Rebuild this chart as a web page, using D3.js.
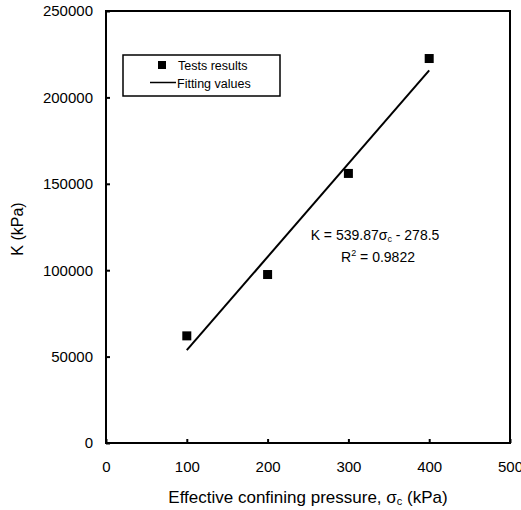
<!DOCTYPE html>
<html>
<head>
<meta charset="utf-8">
<script src="https://cdn.jsdelivr.net/npm/d3@7"></script>
<style>
	body { margin: 0; background: #fff; }
	svg text { font-family: "Liberation Sans", Arial, sans-serif; fill: #000; }
</style>
</head>
<body>
<script>
const w = 521;
const h = 510;
const m = {top: 11, right: 11, bottom: 67, left: 106};

// test data
const pressure = [100, 200, 300, 400];
const modulus = [62000, 97500, 156000, 222500];

// fitted line end points (K = 539.87 sigma_c - 278.5)
const fitPressure = [100, 400];
const fitModulus = [53708, 215670];

const xTicks = [0, 100, 200, 300, 400, 500];
const yTicks = [0, 50000, 100000, 150000, 200000, 250000];

const legendLabels = ['Tests results', 'Fitting values'];

const svg = d3.select('body').append('svg')
	.attr('width', w)
	.attr('height', h);

const x = d3.scaleLinear().domain([0, 500]).range([m.left, w - m.right]);
const y = d3.scaleLinear().domain([0, 250000]).range([h - m.bottom, m.top]);

// axes, ticks drawn inward
svg.append('g')
	.attr('transform', `translate(0,${h - m.bottom})`)
	.call(d3.axisBottom(x).tickValues(xTicks).tickSizeInner(-4).tickSizeOuter(0).tickPadding(18))
	.call(g => g.select('.domain').remove())
	.call(g => g.selectAll('line').attr('stroke-width', 2))
	.call(g => g.selectAll('text').attr('font-size', 15).attr('font-family', '"Liberation Sans", Arial, sans-serif'));

svg.append('g')
	.attr('transform', `translate(${m.left},0)`)
	.call(d3.axisLeft(y).tickValues(yTicks).tickFormat(d3.format('d')).tickSizeInner(-4).tickSizeOuter(0).tickPadding(13))
	.call(g => g.select('.domain').remove())
	.call(g => g.selectAll('line').attr('stroke-width', 2))
	.call(g => g.selectAll('text').attr('font-size', 15).attr('font-family', '"Liberation Sans", Arial, sans-serif'));

// frame
svg.append('rect')
	.attr('x', m.left)
	.attr('y', m.top)
	.attr('width', w - m.right - m.left)
	.attr('height', h - m.bottom - m.top)
	.attr('fill', 'none')
	.attr('stroke', '#000')
	.attr('stroke-width', 2);

// fitting line
svg.append('path')
	.datum(fitPressure.map((p, i) => [p, fitModulus[i]]))
	.attr('d', d3.line().x(d => x(d[0])).y(d => y(d[1])))
	.attr('fill', 'none')
	.attr('stroke', '#000')
	.attr('stroke-width', 2);

// test points
svg.selectAll('.pt')
	.data(pressure.map((p, i) => [p, modulus[i]]))
	.enter()
	.append('rect')
	.attr('class', 'pt')
	.attr('x', d => x(d[0]) - 4.5)
	.attr('y', d => y(d[1]) - 4.5)
	.attr('width', 9)
	.attr('height', 9)
	.attr('fill', '#000');

// equation
const eq = svg.append('text')
	.attr('x', 375)
	.attr('y', 240)
	.attr('text-anchor', 'middle')
	.attr('font-size', 14);
eq.append('tspan').text('K = 539.87σ');
eq.append('tspan').attr('font-size', 9).attr('dy', 2).text('c');
eq.append('tspan').attr('dy', -2).text(' - 278.5');

const r2 = svg.append('text')
	.attr('x', 378)
	.attr('y', 262)
	.attr('text-anchor', 'middle')
	.attr('font-size', 14);
r2.append('tspan').text('R');
r2.append('tspan').attr('font-size', 9).attr('dy', -6).text('2');
r2.append('tspan').attr('dy', 6).text(' = 0.9822');

// legend
const lg = svg.append('g');
lg.append('rect')
	.attr('x', 123)
	.attr('y', 55)
	.attr('width', 157)
	.attr('height', 41)
	.attr('fill', '#fff')
	.attr('stroke', '#000')
	.attr('stroke-width', 1.5);
lg.append('rect')
	.attr('x', 158)
	.attr('y', 61)
	.attr('width', 8)
	.attr('height', 8)
	.attr('fill', '#000');
lg.append('line')
	.attr('x1', 150)
	.attr('x2', 176)
	.attr('y1', 82.5)
	.attr('y2', 82.5)
	.attr('stroke', '#000')
	.attr('stroke-width', 1.5);
lg.selectAll('.lt')
	.data(legendLabels)
	.enter()
	.append('text')
	.attr('class', 'lt')
	.attr('x', (d, i) => i === 0 ? 178 : 177)
	.attr('y', (d, i) => 69.5 + i * 18)
	.attr('font-size', 12.5)
	.text(d => d);

// axis titles
const xt = svg.append('text')
	.attr('x', 308)
	.attr('y', 503)
	.attr('text-anchor', 'middle')
	.attr('font-size', 17);
xt.append('tspan').text('Effective confining pressure, σ');
xt.append('tspan').attr('font-size', 11).attr('dy', 2).text('c');
xt.append('tspan').attr('dy', -2).text(' (kPa)');

svg.append('text')
	.attr('transform', `translate(23,229) rotate(-90)`)
	.attr('text-anchor', 'middle')
	.attr('font-size', 16)
	.text('K (kPa)');
</script>
</body>
</html>
